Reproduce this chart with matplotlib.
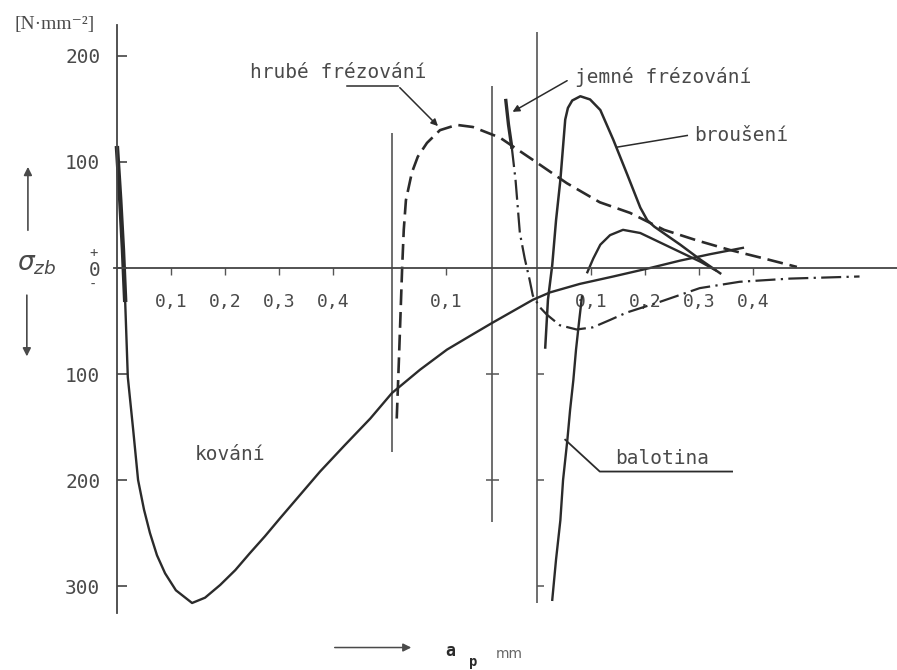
import numpy as np
import matplotlib.pyplot as plt

# residual stress sigma_zb [N/mm2] vs depth a_p [mm]
# each curve is in its own local depth scale; SEG_* is where that scale starts on the sheet
SEG_HRUBE = 0.509
SEG_JEMNE = 0.694
SEG_BROUS = 0.778

kovani_x = [0.000, 0.006, 0.011, 0.015, 0.020, 0.030, 0.039, 0.050, 0.061, 0.074, 0.089, 0.109,
            0.139, 0.163, 0.191, 0.219, 0.246, 0.274, 0.302, 0.339, 0.376, 0.422, 0.469, 0.509,
            0.561, 0.611, 0.654, 0.694, 0.770, 0.802, 0.857, 0.919, 0.987, 1.043, 1.098, 1.159]
kovani_s = [113, 64, 17, -30, -103, -153, -200, -228, -250, -271, -288, -304,
            -316, -311, -299, -285, -269, -253, -236, -214, -192, -167, -142, -118,
            -96, -77, -64, -52, -30, -23, -15, -8, 0, 7, 13, 19]

hrube_x = [0.009, 0.013, 0.019, 0.022, 0.026, 0.037, 0.048, 0.065, 0.089, 0.120, 0.150, 0.200,
           0.261, 0.324, 0.385, 0.441, 0.504, 0.565, 0.626, 0.689, 0.750]
hrube_s = [-142, -87, 0, 36, 64, 90, 105, 118, 130, 135, 133, 123,
           102, 80, 62, 52, 36, 26, 17, 9, 1]

jemne_x = [0.026, 0.031, 0.037, 0.044, 0.052, 0.061, 0.070, 0.076, 0.089, 0.102, 0.126, 0.157,
           0.187, 0.219, 0.250, 0.311, 0.385, 0.459, 0.552, 0.681]
jemne_s = [158, 135, 114, 83, 33, 9, -11, -26, -37, -44, -54, -58,
           -56, -49, -42, -32, -19, -13, -10, -8]

brous_x = [0.015, 0.020, 0.028, 0.035, 0.043, 0.052, 0.057, 0.065, 0.080, 0.098, 0.117, 0.141,
           0.167, 0.191, 0.204, 0.217, 0.265, 0.302, 0.339]
brous_s = [-75, -30, 3, 45, 83, 140, 151, 158, 162, 159, 149, 121,
           88, 57, 45, 39, 22, 8, -5]

brous2_x = [0.093, 0.104, 0.117, 0.135, 0.159, 0.191, 0.228, 0.265, 0.302, 0.330]
brous2_s = [-4, 9, 22, 31, 36, 33, 24, 15, 6, -2]

balot_x = [0.028, 0.035, 0.043, 0.048, 0.056, 0.061, 0.067, 0.072, 0.078, 0.083]
balot_s = [-313, -275, -238, -200, -162, -134, -106, -77, -49, -27]

ytick_vals = [-300, -200, -100, 0, 100, 200]
ytick_text = ['300', '200', '100', '0', '100', '200']
xtick_local = [0.1, 0.2, 0.3, 0.4]

INK = '#2b2b2b'
TXT = '#4a4a4a'
MONO = 'DejaVu Sans Mono'

fig = plt.figure(figsize=(8.97, 6.70), dpi=100)
ax = fig.add_axes([0, 0, 1, 1])
ax.set_xlim(-0.2167, 1.4444)
ax.set_ylim(-379.2, 252.8)

# axes through the origin
for side in ['top', 'right']:
    ax.spines[side].set_visible(False)
ax.spines['left'].set_position(('data', 0))
ax.spines['left'].set_bounds(-325, 229)
ax.spines['bottom'].set_position(('data', 0))
ax.spines['bottom'].set_bounds(-0.005, 1.4444)
for side in ['left', 'bottom']:
    ax.spines[side].set_color('#444444')
    ax.spines[side].set_linewidth(1.3)

ax.set_yticks(ytick_vals, labels=ytick_text)
ax.tick_params(axis='y', direction='in', length=7, width=1.2, color='#444444',
               pad=12, labelsize=14, labelcolor=TXT)
xt = [v for v in xtick_local] + [SEG_HRUBE + 0.1] + [SEG_BROUS + v for v in xtick_local]
xl = ['0,1', '0,2', '0,3', '0,4', '0,1', '0,1', '0,2', '0,3', '0,4']
ax.set_xticks(xt, labels=xl)
ax.tick_params(axis='x', direction='out', length=5, width=1.0, color='#555555',
               pad=13, labelsize=13, labelcolor=TXT)
for lab in ax.get_xticklabels() + ax.get_yticklabels():
    lab.set_family(MONO)

# divider lines between the depth scales
ax.vlines(SEG_HRUBE, -174, 127, color='#555555', lw=1.2)
ax.vlines(SEG_JEMNE, -240, 172, color='#555555', lw=1.2)
ax.vlines(SEG_BROUS, -316, 223, color='#555555', lw=1.2)
for v in [-100, -200]:
    ax.hlines(v, SEG_JEMNE - 0.011, SEG_JEMNE + 0.014, color='#555555', lw=1.1)
for v in [-100, -200, -300]:
    ax.hlines(v, SEG_BROUS, SEG_BROUS + 0.013, color='#555555', lw=1.1)

# curves
ax.plot(kovani_x, kovani_s, color=INK, lw=1.7)
ax.plot(kovani_x[:4], kovani_s[:4], color=INK, lw=3.2)

hx = np.array(hrube_x) + SEG_HRUBE
ax.plot(hx, hrube_s, color=INK, lw=1.9, dashes=(6, 2.6))

jx = np.array(jemne_x) + SEG_JEMNE
ax.plot(jx[:3], jemne_s[:3], color=INK, lw=2.4)
ax.plot(jx[2:], jemne_s[2:], color=INK, lw=1.6, dashes=(9, 2.4, 1, 2.4))

ax.plot(np.array(brous_x) + SEG_BROUS, brous_s, color=INK, lw=1.8)
ax.plot(np.array(brous2_x) + SEG_BROUS, brous2_s, color=INK, lw=1.7)
ax.plot(np.array(balot_x) + SEG_BROUS, balot_s, color=INK, lw=1.7)

# labels and leaders
tkw = dict(family=MONO, fontsize=14, color=TXT, va='center')
ax.text(0.246, 184, 'hrubé frézování', ha='left', **tkw)
ax.plot([0.426, 0.520], [172, 172], color=INK, lw=1.1)
ax.annotate('', xy=(0.598, 132), xytext=(0.520, 172),
            arrowprops=dict(arrowstyle='-|>', color=INK, lw=1.1, mutation_scale=10))

ax.text(0.848, 180, 'jemné frézování', ha='left', **tkw)
ax.annotate('', xy=(0.728, 146), xytext=(0.838, 178),
            arrowprops=dict(arrowstyle='-|>', color=INK, lw=1.1, mutation_scale=10))

ax.text(1.069, 125, 'broušení', ha='left', **tkw)
ax.plot([1.056, 0.926], [125, 114], color=INK, lw=1.1)

ax.text(0.209, -176, 'kování', ha='center', **tkw)

ax.text(0.922, -180, 'balotina', ha='left', **tkw)
ax.plot([0.830, 0.894, 1.139], [-162, -192, -192], color=INK, lw=1.3)

# y axis quantity and unit
ax.text(-0.115, 230, '[N·mm⁻²]', family=['Liberation Serif', 'DejaVu Serif'],
        fontsize=14, color=TXT, ha='center', va='center')
ax.text(-0.148, 4, r'$\sigma_{zb}$', fontsize=19, color=TXT, ha='center', va='center')
ax.annotate('', xy=(-0.165, 98), xytext=(-0.165, 33),
            arrowprops=dict(arrowstyle='-|>', color=TXT, lw=1.2, mutation_scale=12))
ax.annotate('', xy=(-0.167, -86), xytext=(-0.167, -23),
            arrowprops=dict(arrowstyle='-|>', color=TXT, lw=1.2, mutation_scale=12))
ax.text(-0.044, 14, '+', family=MONO, fontsize=10, color=TXT, ha='center', va='center')
ax.text(-0.044, -16, '-', family=MONO, fontsize=10, color=TXT, ha='center', va='center')

# depth axis caption
ax.annotate('', xy=(0.550, -358), xytext=(0.398, -358),
            arrowprops=dict(arrowstyle='-|>', color=TXT, lw=1.1, mutation_scale=12))
ax.text(0.617, -361, 'a', family=MONO, fontsize=12, fontweight='bold', color=INK,
        ha='center', va='center')
ax.text(0.659, -372, 'p', family=MONO, fontsize=10, fontweight='bold', color=INK,
        ha='center', va='center')
ax.text(0.726, -364, 'mm', family='DejaVu Sans', fontsize=10, color='#666666',
        ha='center', va='center')

plt.savefig('out.png', dpi=100)
